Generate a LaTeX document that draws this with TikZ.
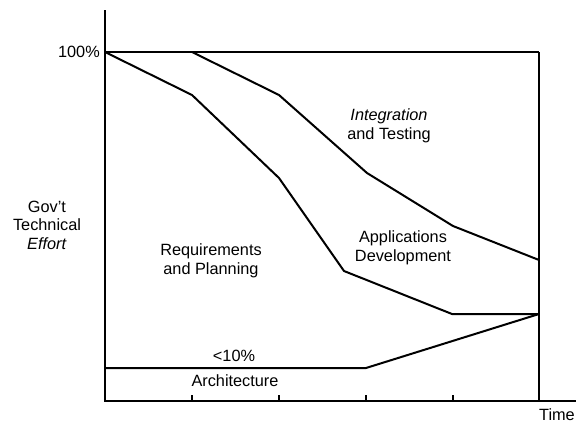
\documentclass[tikz,border=0pt]{standalone}
\usepackage{fontspec}
\setmainfont{Liberation Sans}
\usetikzlibrary{calc}

\begin{document}
\begin{tikzpicture}[x=1pt, y=-1pt, font=\fontsize{16.3}{18.5}\selectfont,
		axis/.style={line width=1.2pt},
		curve/.style={line width=2pt, line join=round},
		lbl/.style={align=center, inner sep=0pt}]
				\useasboundingbox (0,0) rectangle (576,424);
				% axes and ticks
				\coordinate (O) at (105,401);
				\coordinate (top) at (105,10);
				\coordinate (end) at (576,401);
				\draw[axis] (top) -- (O) -- (end);
				\foreach \t in {192,279,366,453}
					\draw[axis] (\t,401) -- (\t,395);
				\draw[axis] (539,52) -- (539,401);
				\draw[axis] (105,52) -- (539,52);
				% bands
				\draw[curve] (105,52) -- (192,95) -- (279,178) -- (344,271) -- (452,314) -- (539,314);
				\draw[curve] (192,52) -- (279,95) -- (367,173) -- (453,226) -- (539,260);
				\draw[curve] (105,368) -- (366,368) -- (539,314);
				% labels
				\node[lbl, anchor=east] (full) at (100,52) {100\%};
				\node[lbl] (effort) at (47,225) {Gov't\\Technical\\\textit{Effort}};
				\node[lbl] (integ) at (389,126) {\textit{Integration}\\and Testing};
				\node[lbl] (appdev) at (403,248) {Applications\\Development};
				\node[lbl] (req) at (211,261) {Requirements\\and Planning};
				\node[lbl] (pct) at (234,356) {<10\%};
				\node[lbl] (arch) at (235,381) {Architecture};
				\node[lbl, anchor=east] (time) at (575,415) {Time};
			\end{tikzpicture}
\end{document}
